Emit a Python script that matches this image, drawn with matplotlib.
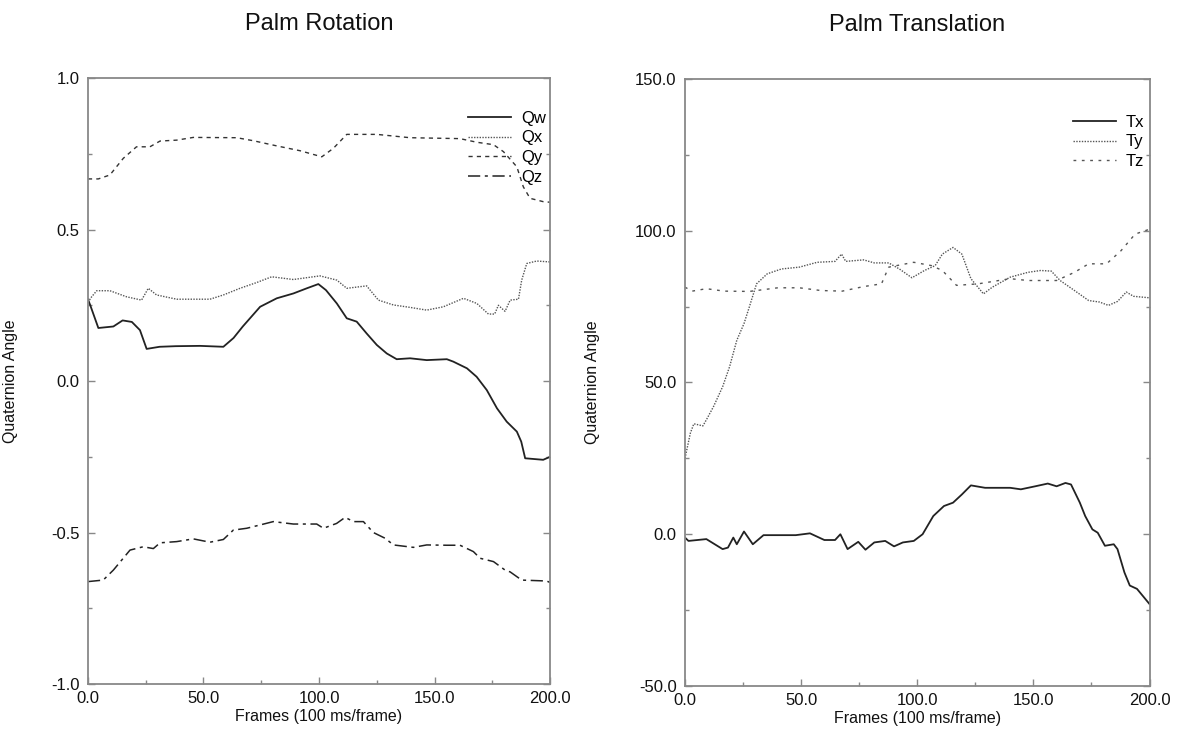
import matplotlib
matplotlib.use("Agg")
import matplotlib.pyplot as plt
from matplotlib.ticker import MultipleLocator, FormatStrFormatter

plt.rcParams['font.family'] = ['Liberation Sans', 'DejaVu Sans']

# --- Palm rotation (quaternion components) ---
qw_t = [0, 1, 4.5, 11, 15, 19, 22.5, 25.4, 31, 38, 48.5, 58.6, 63, 67, 74.5, 81.7, 88.9, 94.7,
        99.7, 103, 107.7, 112, 116.3, 120.6, 125, 129.3, 133.6, 139.4, 146.6, 155.3, 158.1, 164,
        168.2, 172.6, 177, 181.2, 185.6, 187.5, 189.2, 197, 200]
qw_v = [0.27, 0.25, 0.175, 0.18, 0.20, 0.195, 0.168, 0.106, 0.113, 0.115, 0.116, 0.113, 0.142, 0.18,
        0.245, 0.273, 0.289, 0.306, 0.32, 0.30, 0.256, 0.207, 0.196, 0.157, 0.119, 0.091, 0.072,
        0.075, 0.069, 0.072, 0.064, 0.042, 0.014, -0.03, -0.09, -0.134, -0.167, -0.2, -0.255,
        -0.26, -0.25]

qx_t = [0, 1.6, 3.8, 9.5, 16.7, 23.2, 26.1, 29.7, 38.4, 52.8, 58.6, 65.8, 73, 79.5, 88.9, 100.4,
        107.7, 112, 120.6, 125.7, 132.2, 139.4, 146.6, 153.8, 162.5, 168.3, 173.3, 176, 177.6,
        180.5, 182.7, 186.3, 187.7, 189.9, 194.2, 200]
qx_v = [0.26, 0.278, 0.298, 0.298, 0.278, 0.267, 0.306, 0.284, 0.27, 0.27, 0.284, 0.306, 0.325,
        0.344, 0.335, 0.347, 0.333, 0.306, 0.314, 0.267, 0.251, 0.243, 0.234, 0.245, 0.273, 0.256,
        0.221, 0.221, 0.25, 0.23, 0.267, 0.27, 0.333, 0.388, 0.396, 0.393]

qy_t = [0, 4.5, 9.5, 15.3, 21, 26.8, 31.2, 38.4, 45.6, 64.4, 71.6, 81.7, 91.8, 101.2, 106.2, 112,
        125, 139.4, 161, 168.3, 175.5, 179.8, 185.6, 188.4, 191.3, 197, 200]
qy_v = [0.667, 0.667, 0.68, 0.735, 0.773, 0.773, 0.792, 0.795, 0.804, 0.803, 0.793, 0.776, 0.76,
        0.74, 0.768, 0.814, 0.814, 0.803, 0.80, 0.788, 0.78, 0.757, 0.707, 0.641, 0.603, 0.592, 0.59]

qz_t = [0, 6.6, 11, 18.2, 23.9, 28.3, 31.2, 38.4, 45.6, 52.8, 58.6, 62.9, 68.7, 74.5, 80.2, 88.9,
        99, 101.9, 107.6, 111.3, 114.9, 119.2, 123.5, 128.6, 132.2, 140.8, 146.6, 155.3, 161,
        166.8, 169.7, 175.5, 180.5, 182.7, 187.7, 198.5, 200]
qz_v = [-0.662, -0.657, -0.624, -0.558, -0.547, -0.553, -0.534, -0.53, -0.521, -0.532, -0.523,
        -0.492, -0.486, -0.475, -0.464, -0.472, -0.472, -0.486, -0.47, -0.45, -0.464, -0.464,
        -0.50, -0.519, -0.541, -0.549, -0.541, -0.542, -0.542, -0.563, -0.585, -0.596, -0.624,
        -0.63, -0.657, -0.66, -0.665]

# --- Palm translation ---
tx_t = [0, 1.5, 9.2, 16.2, 18.5, 20.8, 22.3, 25.4, 29.2, 33.8, 40, 47.7, 53.8, 60, 64.6, 66.9, 70,
        74.6, 77.7, 81.5, 86.2, 90, 93.8, 98.5, 102.3, 106.9, 111.5, 115.4, 119.2, 123.1, 129.2,
        140, 144.6, 150.8, 156.2, 160, 163.8, 166.2, 170, 172.3, 175.4, 177.7, 180.8, 184.6,
        186.2, 189.2, 191.5, 194.6, 200]
tx_v = [-1.1, -2.2, -1.6, -4.9, -4.4, -1.1, -3.3, 0.9, -3.3, -0.3, -0.3, -0.3, 0.3, -1.9, -1.9, 0,
        -4.9, -2.5, -5.1, -2.7, -2.2, -4.0, -2.7, -2.2, 0, 6.0, 9.3, 10.4, 13.1, 16.1, 15.3, 15.3,
        14.8, 15.8, 16.7, 15.8, 16.9, 16.4, 10.4, 6.0, 1.6, 0.5, -3.8, -3.3, -4.9, -12.6, -16.9,
        -18, -23]

ty_t = [0, 2.3, 3.8, 7.7, 9.2, 12.3, 16.2, 19.2, 22.3, 25.4, 27.7, 30.8, 35.4, 41.5, 49.2, 56.9,
        64.6, 67.4, 69.2, 76.9, 81.5, 87.7, 92.3, 97.7, 103.1, 107.7, 110.8, 115.4, 119.2, 123.1,
        128.5, 132.3, 140, 147.7, 153.1, 157.7, 161.5, 167.7, 173.8, 178.5, 182.3, 186.2, 190,
        193.1, 200]
ty_v = [25, 33.3, 36.4, 35.7, 37.7, 42.1, 48.6, 55.2, 63.9, 69.4, 74.9, 82.5, 85.8, 87.4, 88, 89.6,
        89.9, 92.3, 89.9, 90.4, 89.4, 89.4, 87.4, 84.5, 86.9, 88.5, 92.3, 94.5, 92.3, 84.2, 79.2,
        81.4, 84.7, 86.3, 86.9, 86.7, 83.6, 80.3, 77, 76.5, 75.4, 76.7, 79.8, 78.4, 77.9]

tz_t = [0, 3.1, 9.2, 16.9, 27.7, 40, 49.2, 58.5, 67.7, 76.9, 84.6, 87.7, 98.5, 106.2, 110.8, 116.9,
        126.2, 140, 147.7, 160, 167.7, 173.8, 181.5, 187.7, 193.8, 200]
tz_v = [81.4, 80.1, 80.9, 80.1, 80, 81.2, 81.2, 80.3, 80.1, 81.6, 82.5, 88, 89.6, 88.5, 86.9, 82,
        82.5, 84.2, 83.6, 83.6, 86.3, 89.1, 89.1, 93.4, 98.9, 100.5]

fig = plt.figure(figsize=(11.79, 7.34), dpi=100)
ax1 = fig.add_axes([0.0746, 0.0681, 0.392, 0.8256])
ax2 = fig.add_axes([0.581, 0.0654, 0.394, 0.827])

ax1.plot(qw_t, qw_v, color='#222222', lw=1.3, ls='-', label='Qw')
ax1.plot(qx_t, qx_v, color='#555555', lw=1.0, ls=(0, (1, 1)), label='Qx')
ax1.plot(qy_t, qy_v, color='#333333', lw=1.0, ls=(0, (3, 3)), label='Qy')
ax1.plot(qz_t, qz_v, color='#222222', lw=1.1, ls=(0, (8, 3, 2, 3)), label='Qz')

ax2.plot(tx_t, tx_v, color='#222222', lw=1.3, ls='-', label='Tx')
ax2.plot(ty_t, ty_v, color='#555555', lw=1.0, ls=(0, (1, 1)), label='Ty')
ax2.plot(tz_t, tz_v, color='#555555', lw=1.0, ls=(0, (2, 4)), label='Tz')

setups = [
    (ax1, 'Palm Rotation', (-1.0, 1.0), 0.5, 0.25, -0.152, (0.991, 0.946)),
    (ax2, 'Palm Translation', (-50.0, 150.0), 50.0, 25.0, -0.183, (0.989, 0.941)),
]
for ax, title, ylim, ymaj, ymin, ylab_x, leg_anchor in setups:
    ax.set_xlim(0, 200)
    ax.set_ylim(*ylim)
    ax.xaxis.set_major_locator(MultipleLocator(50))
    ax.xaxis.set_minor_locator(MultipleLocator(25))
    ax.yaxis.set_major_locator(MultipleLocator(ymaj))
    ax.yaxis.set_minor_locator(MultipleLocator(ymin))
    ax.xaxis.set_major_formatter(FormatStrFormatter('%.1f'))
    ax.yaxis.set_major_formatter(FormatStrFormatter('%.1f'))
    ax.tick_params(which='both', direction='in', right=True, top=False, colors='#888888',
                   labelcolor='#111111', labelsize=12)
    ax.tick_params(which='major', length=5, width=1)
    ax.tick_params(which='minor', length=3, width=1)
    ax.tick_params(axis='x', pad=5)
    ax.tick_params(axis='y', pad=6)
    for s in ax.spines.values():
        s.set_color('#888888')
        s.set_linewidth(1.3)
    ax.set_title(title, fontsize=17, pad=34.5, color='#111111')
    ax.set_xlabel('Frames (100 ms/frame)', fontsize=11.5, labelpad=2, color='#111111')
    ax.set_ylabel('Quaternion Angle', fontsize=11.5, color='#111111')
    ax.yaxis.set_label_coords(ylab_x, 0.5)
    ax.legend(loc='upper right', bbox_to_anchor=leg_anchor, frameon=False, fontsize=12,
              handlelength=2.6, handletextpad=0.6, labelspacing=0.28, borderpad=0,
              borderaxespad=0)

fig.savefig('out.png', dpi=100)
